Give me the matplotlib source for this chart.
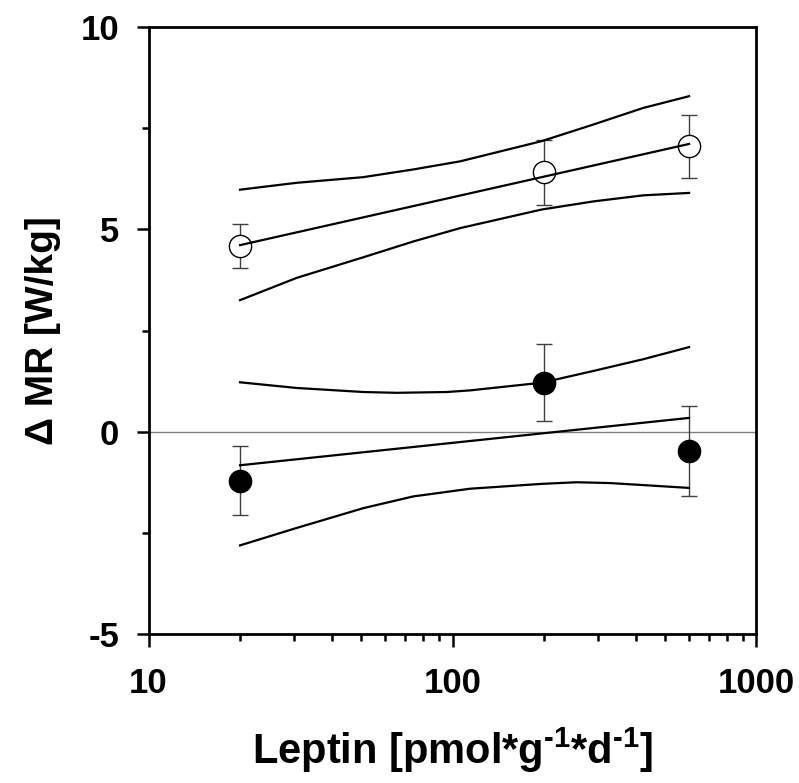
import numpy as np
import matplotlib
matplotlib.use('Agg')
import matplotlib.pyplot as plt
from matplotlib.ticker import FixedLocator, NullFormatter

# 数据
leptin = [20, 200, 600]

mr_open = [4.58, 6.41, 7.05]
err_open = [0.54, 0.80, 0.77]
mr_filled = [-1.21, 1.21, -0.48]
err_filled = [0.85, 0.95, 1.11]

# 回归线端点
fit_x = [20, 600]
fit_open = [4.61, 7.11]
fit_filled = [-0.83, 0.34]

# 置信区间曲线
band_open_x = [20, 30.7, 50.9, 74.3, 105.9, 196.6, 290.5, 424, 600]
band_open_hi = [5.98, 6.15, 6.29, 6.48, 6.68, 7.18, 7.59, 8.00, 8.29]
band_open_lo = [3.25, 3.80, 4.31, 4.70, 5.03, 5.49, 5.69, 5.84, 5.90]

band_filled_hi_x = [20, 30.7, 50.9, 65.5, 95.7, 114.2, 196.6, 290.5, 424, 600]
band_filled_hi = [1.22, 1.08, 0.98, 0.96, 0.98, 1.02, 1.21, 1.50, 1.79, 2.09]
band_filled_lo_x = [20, 30.7, 50.9, 74.3, 114.2, 196.6, 256, 329.6, 424, 600]
band_filled_lo = [-2.81, -2.38, -1.89, -1.60, -1.41, -1.29, -1.25, -1.27, -1.32, -1.39]

plt.rcParams['font.family'] = ['Liberation Sans', 'DejaVu Sans']
plt.rcParams['font.weight'] = 'bold'
plt.rcParams['mathtext.fontset'] = 'custom'
plt.rcParams['mathtext.rm'] = 'Liberation Sans:bold'
plt.rcParams['mathtext.bf'] = 'Liberation Sans:bold'

fig = plt.figure(figsize=(7.99, 7.83), dpi=100)
ax = fig.add_axes([0.1859, 0.1903, 0.7609, 0.7752])

# 零线
ax.axhline(0, color='#808080', lw=1.0, zorder=1)

# 误差棒
ax.errorbar(leptin, mr_open, yerr=err_open, fmt='none', ecolor='#404040',
            elinewidth=1.0, capsize=5.5, capthick=1.0, zorder=2)
ax.errorbar(leptin, mr_filled, yerr=err_filled, fmt='none', ecolor='#404040',
            elinewidth=1.0, capsize=5.5, capthick=1.0, zorder=2)

# 数据点
ax.plot(leptin, mr_open, 'o', ms=16, mfc='white', mec='black', mew=1.0, zorder=3)
ax.plot(leptin, mr_filled, 'o', ms=16, mfc='black', mec='black', mew=1.0, zorder=3)

# 回归线和置信带
lw = 1.6
ax.plot(fit_x, fit_open, color='black', lw=lw, zorder=4)
ax.plot(band_open_x, band_open_hi, color='black', lw=lw, zorder=4)
ax.plot(band_open_x, band_open_lo, color='black', lw=lw, zorder=4)
ax.plot(fit_x, fit_filled, color='black', lw=lw, zorder=4)
ax.plot(band_filled_hi_x, band_filled_hi, color='black', lw=lw, zorder=4)
ax.plot(band_filled_lo_x, band_filled_lo, color='black', lw=lw, zorder=4)

ax.set_xscale('log')
ax.set_xlim(10, 1000)
ax.set_ylim(-5, 10)

ax.set_xticks([10, 100, 1000])
ax.set_xticklabels(['10', '100', '1000'])
ax.xaxis.set_minor_locator(FixedLocator([k * 10 ** d for d in (1, 2) for k in range(2, 10)]))
ax.xaxis.set_minor_formatter(NullFormatter())
ax.set_yticks([-5, 0, 5, 10])
ax.set_yticklabels(['-5', '0', '5', '10'])
ax.set_yticks([-2.5, 2.5, 7.5], minor=True)

ax.tick_params(which='major', direction='out', length=9, width=1.8, labelsize=25)
ax.tick_params(axis='x', which='major', pad=15)
ax.tick_params(axis='y', which='major', pad=12)
ax.tick_params(which='minor', direction='out', length=5, width=1.8)
ax.tick_params(top=False, right=False, which='both')

for s in ax.spines.values():
    s.set_linewidth(2.0)

ax.set_xlabel(r'Leptin [pmol*g$^{\text{-1}}$*d$^{\text{-1}}$]', fontsize=30, fontweight='bold', labelpad=18)
ax.set_ylabel('Δ MR [W/kg]', fontsize=28, fontweight='bold', labelpad=14)

plt.savefig('out.png', dpi=100)
